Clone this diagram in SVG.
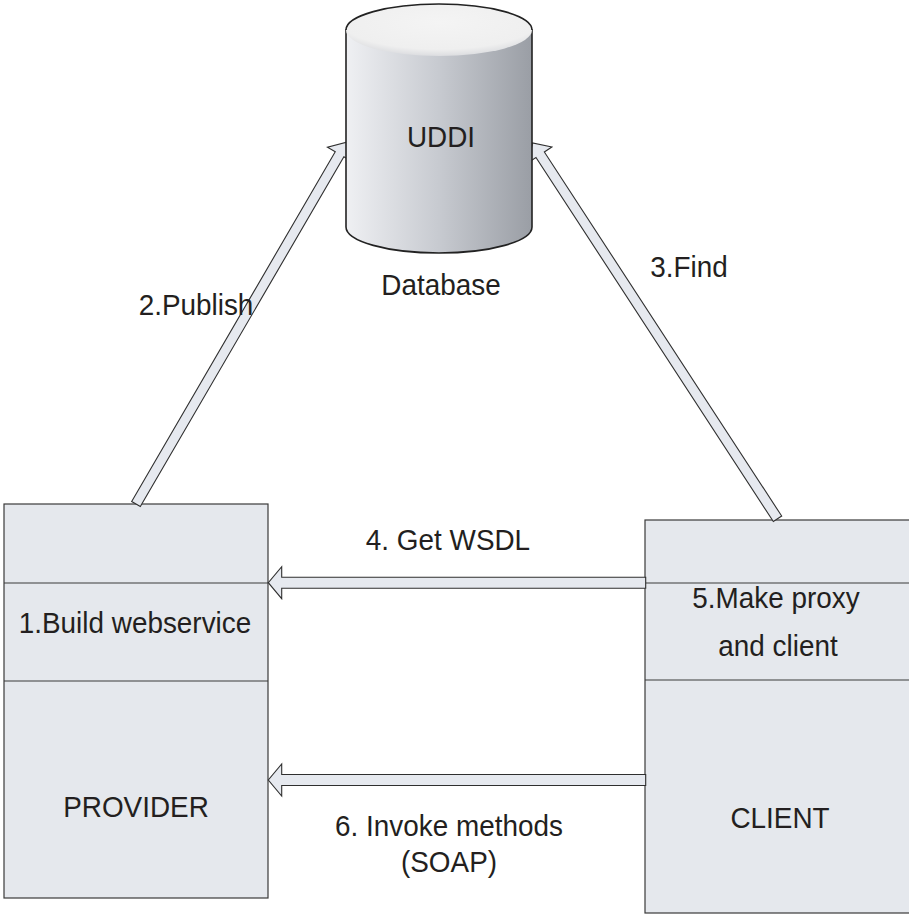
<svg xmlns="http://www.w3.org/2000/svg" width="909" height="914" viewBox="0 0 909 914">
  <style>
    .box { fill: #e5e8ed; stroke: #3a3a3a; stroke-width: 1.2; }
    .div { stroke: #3a3a3a; stroke-width: 1.2; fill: none; }
    .arrow { fill: #e6e9ef; stroke: #2f2f2f; stroke-width: 1.1; stroke-linejoin: miter; }
    .t { font-family: "Liberation Sans", Arial, sans-serif; font-size: 30px; fill: #231f20; text-anchor: middle; }
  </style>
  <defs>
    <linearGradient id="bodyGrad" x1="0" y1="0" x2="1" y2="0">
      <stop offset="0" stop-color="#eff0f3"/>
      <stop offset="0.5" stop-color="#c7cad0"/>
      <stop offset="1" stop-color="#9a9ea5"/>
    </linearGradient>
    <radialGradient id="topGrad" cx="0.5" cy="0.35" r="0.65">
      <stop offset="0" stop-color="#f4f4f4"/>
      <stop offset="0.8" stop-color="#efefef"/>
      <stop offset="1" stop-color="#dcdde0"/>
    </radialGradient>
    <!-- block arrow pointing along +x, tip at x=0 -->
    <polygon id="head" points="0,0 -14,-15 -14,-5.5"/>
  </defs>

  <!-- provider node -->
  <g id="provider">
    <rect class="box" x="4" y="504" width="264" height="394"/>
    <line class="div" x1="4" y1="583" x2="268" y2="583"/>
    <line class="div" x1="4" y1="681" x2="268" y2="681"/>
    <text class="t" transform="translate(135,633) scale(0.93,1)">1.Build webservice</text>
    <text class="t" transform="translate(136,817) scale(0.93,1)">PROVIDER</text>
  </g>

  <!-- client node -->
  <g id="client">
    <rect class="box" x="645" y="520" width="270" height="393"/>
    <line class="div" x1="645" y1="583" x2="909" y2="583"/>
    <line class="div" x1="645" y1="680" x2="909" y2="680"/>
    <text class="t" transform="translate(776,608) scale(0.93,1)">5.Make proxy</text>
    <text class="t" transform="translate(778,656) scale(0.93,1)">and client</text>
    <text class="t" transform="translate(780,828) scale(0.93,1)">CLIENT</text>
  </g>

  <!-- connectors: hollow block arrows -->
  <g id="connectors">
    <polygon class="arrow" transform="translate(136,504) rotate(-59.8)" points="0,-5 404.7,-5 404.7,-14 418.7,0 404.7,14 404.7,5 0,5"/>
    <polygon class="arrow" transform="translate(777.5,518.8) rotate(-123.1)" points="0,-5 434.6,-5 434.6,-14 448.6,0 434.6,14 434.6,5 0,5"/>
    <polygon class="arrow" transform="translate(645.7,582.7) rotate(180)" points="0,-5.5 364,-5.5 364,-16 377.4,0 364,16 364,5.5 0,5.5"/>
    <polygon class="arrow" transform="translate(645.7,780) rotate(180)" points="0,-5.5 364,-5.5 364,-16 377.4,0 364,16 364,5.5 0,5.5"/>
    <text class="t" transform="translate(196,315) scale(0.93,1)">2.Publish</text>
    <text class="t" transform="translate(689,277) scale(0.93,1)">3.Find</text>
    <text class="t" transform="translate(448,550) scale(0.93,1)">4. Get WSDL</text>
    <text class="t" transform="translate(449,836) scale(0.93,1)">6. Invoke methods</text>
    <text class="t" transform="translate(449,872) scale(0.93,1)">(SOAP)</text>
  </g>

  <!-- UDDI database node -->
  <g id="uddi">
    <path d="M346,30 L346,227 A93,26 0 0 0 532,227 L532,30 Z" fill="url(#bodyGrad)" stroke="#222" stroke-width="1.6"/>
    <ellipse cx="439" cy="30" rx="93" ry="26" fill="url(#topGrad)" stroke="none"/>
    <path d="M346,30 A93,26 0 0 1 532,30" fill="none" stroke="#222" stroke-width="1.6"/>
    <text class="t" transform="translate(441,147) scale(0.93,1)">UDDI</text>
    <text class="t" transform="translate(441,295) scale(0.93,1)">Database</text>
  </g>
</svg>
